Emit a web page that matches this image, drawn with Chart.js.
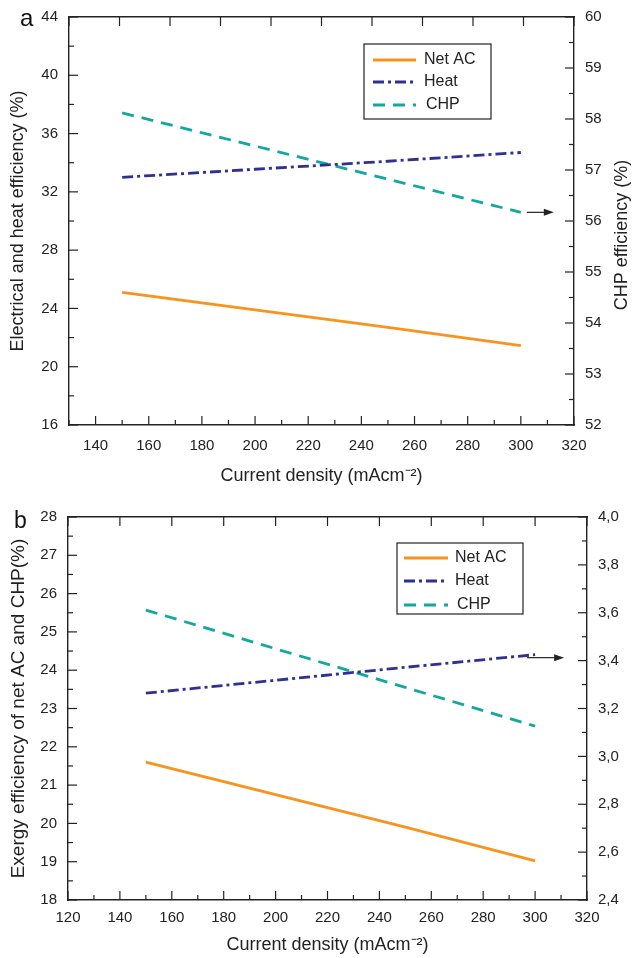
<!DOCTYPE html>
<html>
<head>
<meta charset="utf-8">
<script src="https://cdn.jsdelivr.net/npm/chart.js@4.4.0/dist/chart.umd.min.js"></script>
<style>
  body { margin: 0; background: #fff; }
  #lienzo { position: relative; width: 633px; height: 958px; }
  #cajaA { position: absolute; left: 0; top: 0; width: 633px; height: 495px; }
  #cajaB { position: absolute; left: 0; top: 495px; width: 633px; height: 463px; }
</style>
</head>
<body>
<div id="lienzo">
  <div id="cajaA"><canvas id="graficoA"></canvas></div>
  <div id="cajaB"><canvas id="graficoB"></canvas></div>
</div>
<script>
// datos
const corrienteA = [150, 200, 250, 300];
const netoA = [25.1, 23.9, 22.7, 21.45];
const calorA = [33.0, 33.55, 34.1, 34.7];
const chpA = [58.12, 57.47, 56.82, 56.17];

const corrienteB = [150, 200, 250, 300];
const netoB = [21.6, 20.75, 19.9, 19.02];
const calorB = [3.264, 3.318, 3.372, 3.425];
const chpB = [25.57, 24.56, 23.55, 22.54];

const etiquetas = ['Net AC', 'Heat', 'CHP'];

// rangos de los ejes
const ejeXA = { min: 130, max: 320, paso: 10, mayor: 20 };
const ejeY1A = { min: 16, max: 44, paso: 2, mayor: 4 };
const ejeY2A = { min: 52, max: 60, paso: 0.5, mayor: 1 };
const ejeXB = { min: 120, max: 320, paso: 10, mayor: 20 };
const ejeY1B = { min: 18, max: 28, paso: 0.5, mayor: 1 };
const ejeY2B = { min: 2.4, max: 4.0, paso: 0.1, mayor: 0.2 };

const naranja = '#F7941E';
const azul = '#2E3192';
const turquesa = '#12A89E';
const tinta = '#222';
const fuente = "'Liberation Sans', Arial, Helvetica, sans-serif";

function esMultiplo(v, paso) {
    const r = v / paso;
    return Math.abs(r - Math.round(r)) < 1e-6;
}

const marcasInternas = {
    id: 'marcasInternas',
    afterDraw(chart, args, opts) {
        const ctx = chart.ctx;
        const area = chart.chartArea;
        ctx.save();
        ctx.strokeStyle = tinta;
        ctx.lineWidth = 1.2;
        for (const [id, paso] of Object.entries(opts.pasos)) {
            const escala = chart.scales[id];
            escala.ticks.forEach(t => {
                const largo = esMultiplo(t.value, paso) ? 9 : 5;
                const p = escala.getPixelForValue(t.value);
                ctx.beginPath();
                if (escala.position === 'bottom') { ctx.moveTo(p, area.bottom); ctx.lineTo(p, area.bottom - largo); }
                else if (escala.position === 'top') { ctx.moveTo(p, area.top); ctx.lineTo(p, area.top + largo); }
                else if (escala.position === 'left') { ctx.moveTo(area.left, p); ctx.lineTo(area.left + largo, p); }
                else { ctx.moveTo(area.right, p); ctx.lineTo(area.right - largo, p); }
                ctx.stroke();
            });
        }
        ctx.restore();
    }
};

const adornos = {
    id: 'adornos',
    afterDraw(chart, args, opts) {
        const ctx = chart.ctx;
        const area = chart.chartArea;
        ctx.save();

        // letra del panel
        ctx.fillStyle = '#111';
        ctx.font = opts.letra.tam + 'px ' + fuente;
        ctx.textBaseline = 'alphabetic';
        ctx.fillText(opts.letra.texto, opts.letra.x, opts.letra.y);

        // titulo del eje derecho
        if (opts.tituloDerecho) {
            ctx.save();
            ctx.translate(opts.tituloDerecho.x, (area.top + area.bottom) / 2 + opts.tituloDerecho.dy);
            ctx.rotate(-Math.PI / 2);
            ctx.font = '18px ' + fuente;
            ctx.textAlign = 'center';
            ctx.textBaseline = 'middle';
            ctx.fillStyle = tinta;
            ctx.fillText(opts.tituloDerecho.texto, 0, 0);
            ctx.restore();
        }

        // leyenda con recuadro
        const ley = opts.leyenda;
        ctx.strokeStyle = tinta;
        ctx.lineWidth = 1.2;
        ctx.strokeRect(ley.x, ley.y, ley.w, ley.h);
        ctx.font = '16px ' + fuente;
        ctx.textBaseline = 'middle';
        ctx.textAlign = 'left';
        chart.data.datasets.forEach((ds, i) => {
            const fy = ley.filas[i];
            ctx.save();
            ctx.strokeStyle = ds.borderColor;
            ctx.lineWidth = ds.borderWidth;
            ctx.setLineDash(ds.borderDash || []);
            ctx.beginPath();
            ctx.moveTo(ley.x0, fy);
            ctx.lineTo(ley.x1, fy);
            ctx.stroke();
            ctx.restore();
            ctx.fillStyle = tinta;
            ctx.fillText(ds.label, ley.textoX + (i === 2 ? 2 : 0), fy);
        });

        // flecha hacia el eje derecho
        const fl = opts.flecha;
        const meta = chart.getDatasetMeta(fl.serie);
        const ultimo = meta.data[meta.data.length - 1];
        const x0 = ultimo.x + fl.desde;
        const x1 = x0 + fl.largo;
        const y = ultimo.y + fl.dy;
        ctx.strokeStyle = tinta;
        ctx.fillStyle = tinta;
        ctx.lineWidth = 1.2;
        ctx.beginPath();
        ctx.moveTo(x0, y);
        ctx.lineTo(x1 - 8, y);
        ctx.stroke();
        ctx.beginPath();
        ctx.moveTo(x1, y);
        ctx.lineTo(x1 - 10, y - 3.5);
        ctx.lineTo(x1 - 10, y + 3.5);
        ctx.closePath();
        ctx.fill();

        ctx.restore();
    }
};

function ejeLineal(rango, posicion, formato, extra) {
    return Object.assign({
        type: 'linear',
        position: posicion,
        min: rango.min,
        max: rango.max,
        grid: { display: false },
        border: { display: true, color: tinta, width: 1.4 },
        ticks: {
            stepSize: rango.paso,
            autoSkip: false,
            maxRotation: 0,
            color: tinta,
            font: { family: fuente, size: 15 },
            callback: v => esMultiplo(v, rango.mayor) ? formato(v) : ''
        }
    }, extra);
}

function serie(etiqueta, xs, ys, color, guiones, eje) {
    return {
        label: etiqueta,
        data: xs.map((x, i) => ({ x: x, y: ys[i] })),
        borderColor: color,
        borderWidth: 2.8,
        borderDash: guiones,
        pointRadius: 0,
        tension: 0,
        fill: false,
        yAxisID: eje
    };
}

function crearGrafico(idLienzo, c) {
    const ctx = document.getElementById(idLienzo).getContext('2d');
    return new Chart(ctx, {
        type: 'line',
        data: { datasets: c.series },
        options: {
            responsive: true,
            maintainAspectRatio: false,
            animation: false,
            layout: { padding: { top: c.arriba, left: 0, right: 0, bottom: 0 } },
            plugins: {
                legend: { display: false },
                tooltip: { enabled: false },
                marcasInternas: { pasos: { x: c.ejeX.mayor, x2: 1, y: c.ejeY1.mayor, y2: c.ejeY2.mayor } },
                adornos: c.adornos
            },
            scales: {
                x: ejeLineal(c.ejeX, 'bottom', v => v, {
                    afterFit: e => { e.height = c.altoX; },
                    ticks: {
                        stepSize: c.ejeX.paso, autoSkip: false, maxRotation: 0, color: tinta,
                        padding: c.rellenoX,
                        font: { family: fuente, size: 15 },
                        callback: v => (esMultiplo(v, c.ejeX.mayor) && v !== 130) ? v : ''
                    },
                    title: {
                        display: true,
                        text: 'Current density (mAcm\u207B\u00B2)',
                        color: tinta,
                        font: { family: fuente, size: 18 },
                        padding: { top: 0, bottom: c.rellenoTituloX }
                    }
                }),
                x2: {
                    type: 'linear', position: 'top', min: 0, max: 10,
                    grid: { display: false },
                    border: { display: true, color: tinta, width: 1.4 },
                    ticks: { display: false, stepSize: 1 },
                    afterFit: e => { e.height = 0; }
                },
                y: ejeLineal(c.ejeY1, 'left', v => v, {
                    afterFit: e => { e.width = c.anchoIzq; },
                    title: {
                        display: true,
                        text: c.tituloIzq,
                        color: tinta,
                        font: { family: fuente, size: c.tamTituloIzq },
                        padding: { top: c.rellenoTituloIzq, bottom: 0 }
                    }
                }),
                y2: ejeLineal(c.ejeY2, 'right', c.formatoDer, {
                    afterFit: e => { e.width = c.anchoDer; }
                })
            }
        },
        plugins: [marcasInternas, adornos]
    });
}

crearGrafico('graficoA', {
    series: [
        serie(etiquetas[0], corrienteA, netoA, naranja, [], 'y'),
        serie(etiquetas[1], corrienteA, calorA, azul, [11, 4, 3, 4], 'y'),
        serie(etiquetas[2], corrienteA, chpA, turquesa, [12, 8], 'y2')
    ],
    ejeX: ejeXA, ejeY1: ejeY1A, ejeY2: ejeY2A,
    arriba: 17, altoX: 70, anchoIzq: 69, anchoDer: 59,
    rellenoX: 4, rellenoTituloX: 8, rellenoTituloIzq: 7, tamTituloIzq: 18,
    tituloIzq: 'Electrical and heat efficiency (%)',
    formatoDer: v => v,
    adornos: {
        letra: { texto: 'a', x: 20, y: 26, tam: 24 },
        tituloDerecho: { texto: 'CHP efficiency (%)', x: 622, dy: 14 },
        leyenda: { x: 364, y: 44, w: 127, h: 75, x0: 373, x1: 416, textoX: 424, filas: [60, 82, 105] },
        flecha: { serie: 2, desde: 6, largo: 27, dy: 0 }
    }
});

crearGrafico('graficoB', {
    series: [
        serie(etiquetas[0], corrienteB, netoB, naranja, [], 'y'),
        serie(etiquetas[1], corrienteB, calorB, azul, [11, 4, 3, 4], 'y2'),
        serie(etiquetas[2], corrienteB, chpB, turquesa, [12, 8], 'y')
    ],
    ejeX: ejeXB, ejeY1: ejeY1B, ejeY2: ejeY2B,
    arriba: 22, altoX: 58, anchoIzq: 68, anchoDer: 46,
    rellenoX: 1, rellenoTituloX: 2, rellenoTituloIzq: 7, tamTituloIzq: 19,
    tituloIzq: 'Exergy efficiency of net AC and CHP(%)',
    formatoDer: v => v.toFixed(1).replace('.', ','),
    adornos: {
        letra: { texto: 'b', x: 14, y: 33, tam: 23 },
        tituloDerecho: null,
        leyenda: { x: 397, y: 48, w: 126, h: 71, x0: 404, x1: 448, textoX: 455, filas: [63, 86, 110] },
        flecha: { serie: 1, desde: -8, largo: 37, dy: 3 }
    }
});
</script>
</body>
</html>
